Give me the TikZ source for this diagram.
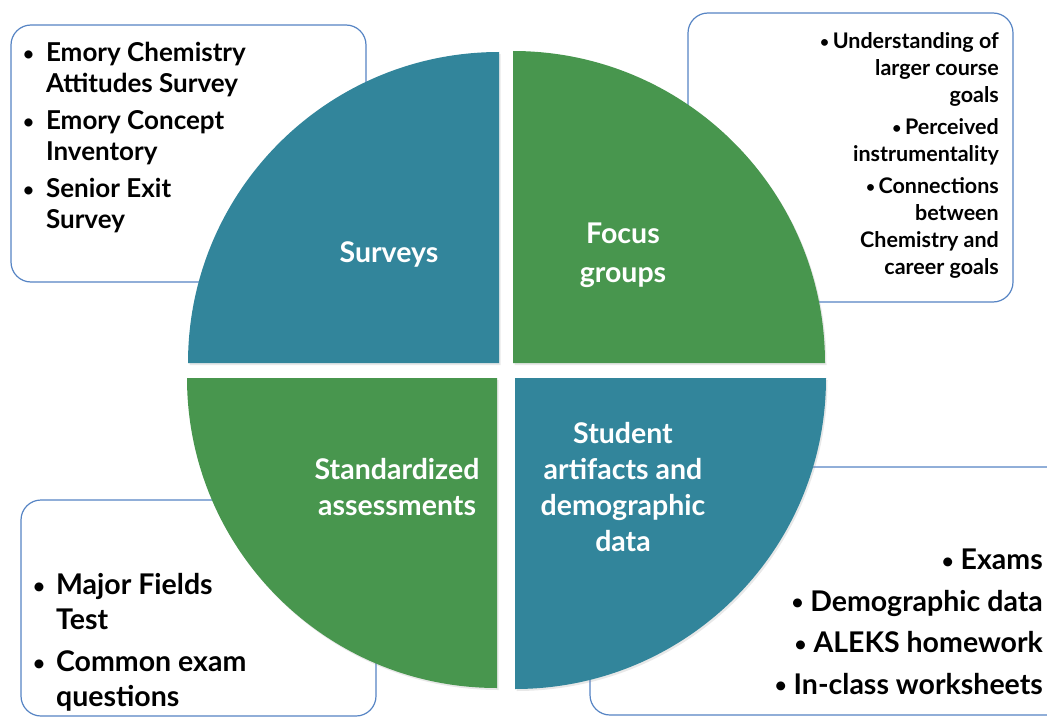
\documentclass[tikz,border=0pt]{standalone}
\usepackage{fontspec}
\setmainfont{Lato}
\usetikzlibrary{shadows}

\definecolor{quadteal}{RGB}{50,133,155}
\definecolor{quadgreen}{RGB}{72,150,78}
\definecolor{boxline}{RGB}{86,132,196}

% smaller list bullet
\newcommand\bul{\raisebox{0.05em}{\scalebox{0.72}{\textbullet}}}

\tikzset{
  listbox/.style={draw=boxline, line width=1.2pt, rounded corners=20pt, fill=white},
  quad/.style={drop shadow={opacity=0.18, shadow xshift=1.5pt, shadow yshift=-2pt}},
  lbl/.style={text=white, align=center, inner sep=0pt, font=\bfseries\fontsize{28.5}{36}\selectfont},
  items/.style={inner sep=0pt, font=\bfseries\fontsize{26}{31}\selectfont},
}

\begin{document}
\begin{tikzpicture}[x=1pt,y=-1pt]
  \useasboundingbox (0,0) rectangle (1047,717);
  \clip (0,0) rectangle (1047,717);

  % boxes sit behind the circle
  \draw[listbox] (11,25) rectangle (366,282);
  \draw[listbox] (688,13) rectangle (1013,302);
  \draw[listbox] (21,500) rectangle (376,716);
  \draw[listbox] (590,467) rectangle (1070,715);

  % four quarters
  \fill[quadteal,quad]  (499,363) -- (188,363) arc[start angle=180,end angle=270,radius=311] -- cycle;
  \fill[quadgreen,quad] (513,363) -- (513,51)  arc[start angle=270,end angle=360,radius=312] -- cycle;
  \fill[quadgreen,quad] (497,378) -- (187,378) arc[start angle=180,end angle=90,radius=310]  -- cycle;
  \fill[quadteal,quad]  (515,378) -- (826,378) arc[start angle=0,end angle=90,radius=311]    -- cycle;

  \node[lbl] (surveys) at (389,254) {Surveys};
  \node[lbl, font=\bfseries\fontsize{28.5}{39}\selectfont] (focus) at (623,255) {Focus\\groups};
  \node[lbl] (stdized) at (397,487) {Standardized\\assessments};
  \node[lbl] (student) at (623,487) {Student\\artifacts and\\demographic\\data};

  % lists
  \node[items, anchor=north west] (surveylist) at (23,40) {%
    \begin{tabular}{@{}l@{\hspace{12pt}}l@{}}
      \bul & Emory Chemistry\\
           & Attitudes Survey\\[6pt]
      \bul & Emory Concept\\
           & Inventory\\[6pt]
      \bul & Senior Exit\\
           & Survey
    \end{tabular}};

  \node[items, anchor=north east, align=right, font=\bfseries\fontsize{21.5}{27}\selectfont]
    (focuslist) at (999,32)
    {\bul\,Understanding of\\larger course\\goals\\[5pt]
     \bul\,Perceived\\instrumentality\\[5pt]
     \bul\,Connections\\between\\Chemistry and\\career goals};

  \node[items, anchor=north west, font=\bfseries\fontsize{28.5}{35}\selectfont] (stdlist) at (33,570) {%
    \begin{tabular}{@{}l@{\hspace{11pt}}l@{}}
      \bul & Major Fields\\
           & Test\\[7pt]
      \bul & Common exam\\
           & questions
    \end{tabular}};

  \node[items, anchor=north east, align=right, font=\bfseries\fontsize{28.5}{41.5}\selectfont]
    (artlist) at (1043,549)
    {\bul\ Exams\\ \bul\ Demographic data\\ \bul\ ALEKS homework\\ \bul\ In-class worksheets};
\end{tikzpicture}
\end{document}
